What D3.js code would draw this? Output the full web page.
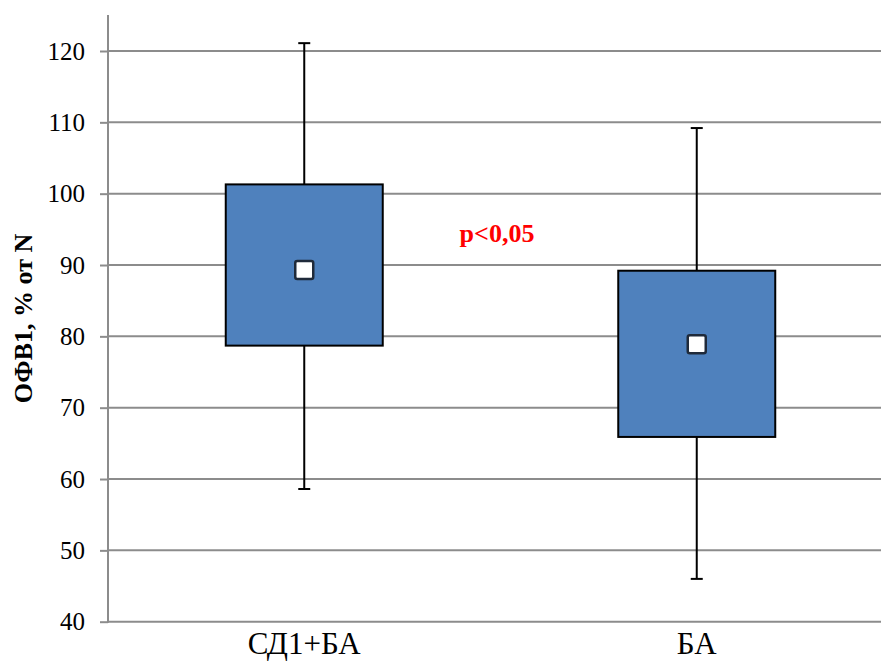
<!DOCTYPE html>
<html>
<head>
<meta charset="utf-8">
<script src="https://cdn.jsdelivr.net/npm/d3@7"></script>
<style>
  html, body { margin: 0; padding: 0; background: #fff; }
  svg { display: block; }
  svg text { font-family: "Liberation Serif", "Times New Roman", serif; }
</style>
</head>
<body>
<svg id="chart" width="881" height="662"></svg>
<script>
// Groups and their summary statistics (FEV1, % of predicted)
const categories = ["СД1+БА", "БА"];
const whiskerLow = [58.6, 46.0];
const boxLow = [78.7, 65.9];
const meanValues = [89.3, 78.9];
const boxHigh = [101.3, 89.2];
const whiskerHigh = [121.1, 109.2];
const yTicks = [40, 50, 60, 70, 80, 90, 100, 110, 120];
const yTitle = "ОФВ1, % от N";
const note = "p<0,05";

const rows = categories.map((c, i) => ({
  cat: c, wl: whiskerLow[i], ql: boxLow[i], m: meanValues[i], qh: boxHigh[i], wh: whiskerHigh[i]
}));

const svg = d3.select("#chart");
const plotLeft = 108, plotRight = 893, plotTop = 51, plotBottom = 621.7;

const y = d3.scaleLinear().domain([40, 120]).range([plotBottom, plotTop]);
const x = d3.scaleBand().domain(categories).range([plotLeft, plotRight]);

const gridColor = "#8c8c8c";

// horizontal gridlines
svg.append("g").selectAll("line").data(yTicks).join("line")
  .attr("x1", plotLeft).attr("x2", 881)
  .attr("y1", d => y(d)).attr("y2", d => y(d))
  .attr("stroke", gridColor).attr("stroke-width", 2);

// y axis with outward ticks
const yAxis = svg.append("g")
  .attr("transform", `translate(${plotLeft},0)`)
  .call(d3.axisLeft(y).tickValues(yTicks).tickSize(8).tickPadding(15));
yAxis.attr("font-family", null).attr("font-size", null);
yAxis.select(".domain").remove();
yAxis.selectAll(".tick line").attr("stroke", gridColor).attr("stroke-width", 2);
yAxis.selectAll(".tick text")
  .attr("fill", "#000")
  .style("font-size", "25px");
svg.append("line")
  .attr("x1", plotLeft).attr("x2", plotLeft)
  .attr("y1", 15).attr("y2", plotBottom + 1)
  .attr("stroke", gridColor).attr("stroke-width", 2);

// category labels
svg.append("g").selectAll("text").data(categories).join("text")
  .attr("x", d => x(d) + x.bandwidth() / 2)
  .attr("y", 654)
  .attr("text-anchor", "middle")
  .style("font-size", "31px")
  .text(d => d);

// y title
svg.append("text")
  .attr("transform", `translate(32,${(232 + 405) / 2}) rotate(-90)`)
  .attr("text-anchor", "middle")
  .style("font-size", "26px")
  .style("font-weight", "bold")
  .text(yTitle);

const boxW = x.bandwidth() * 0.4;
const capW = 12;
const g = svg.append("g").selectAll("g").data(rows).join("g")
  .attr("transform", d => `translate(${x(d.cat) + x.bandwidth() / 2},0)`);

// whiskers
g.append("line")
  .attr("x1", 0).attr("x2", 0)
  .attr("y1", d => y(d.wh)).attr("y2", d => y(d.wl))
  .attr("stroke", "#000").attr("stroke-width", 2);
g.append("line")
  .attr("x1", -capW / 2).attr("x2", capW / 2)
  .attr("y1", d => y(d.wh)).attr("y2", d => y(d.wh))
  .attr("stroke", "#000").attr("stroke-width", 2);
g.append("line")
  .attr("x1", -capW / 2).attr("x2", capW / 2)
  .attr("y1", d => y(d.wl)).attr("y2", d => y(d.wl))
  .attr("stroke", "#000").attr("stroke-width", 2);

// boxes
g.append("rect")
  .attr("x", -boxW / 2).attr("width", boxW)
  .attr("y", d => y(d.qh)).attr("height", d => y(d.ql) - y(d.qh))
  .attr("fill", "#4f81bd").attr("stroke", "#000").attr("stroke-width", 2);

// mean markers
const mk = 18;
g.append("rect")
  .attr("x", -mk / 2).attr("width", mk)
  .attr("y", d => y(d.m) - mk / 2).attr("height", mk)
  .attr("rx", 2)
  .attr("fill", "#fff").attr("stroke", "#1f2a3a").attr("stroke-width", 2.5);

// significance note
svg.append("text")
  .attr("x", 497).attr("y", 242)
  .attr("text-anchor", "middle")
  .attr("fill", "#ff0000")
  .style("font-size", "26px")
  .style("font-weight", "bold")
  .text(note);
</script>
</body>
</html>
